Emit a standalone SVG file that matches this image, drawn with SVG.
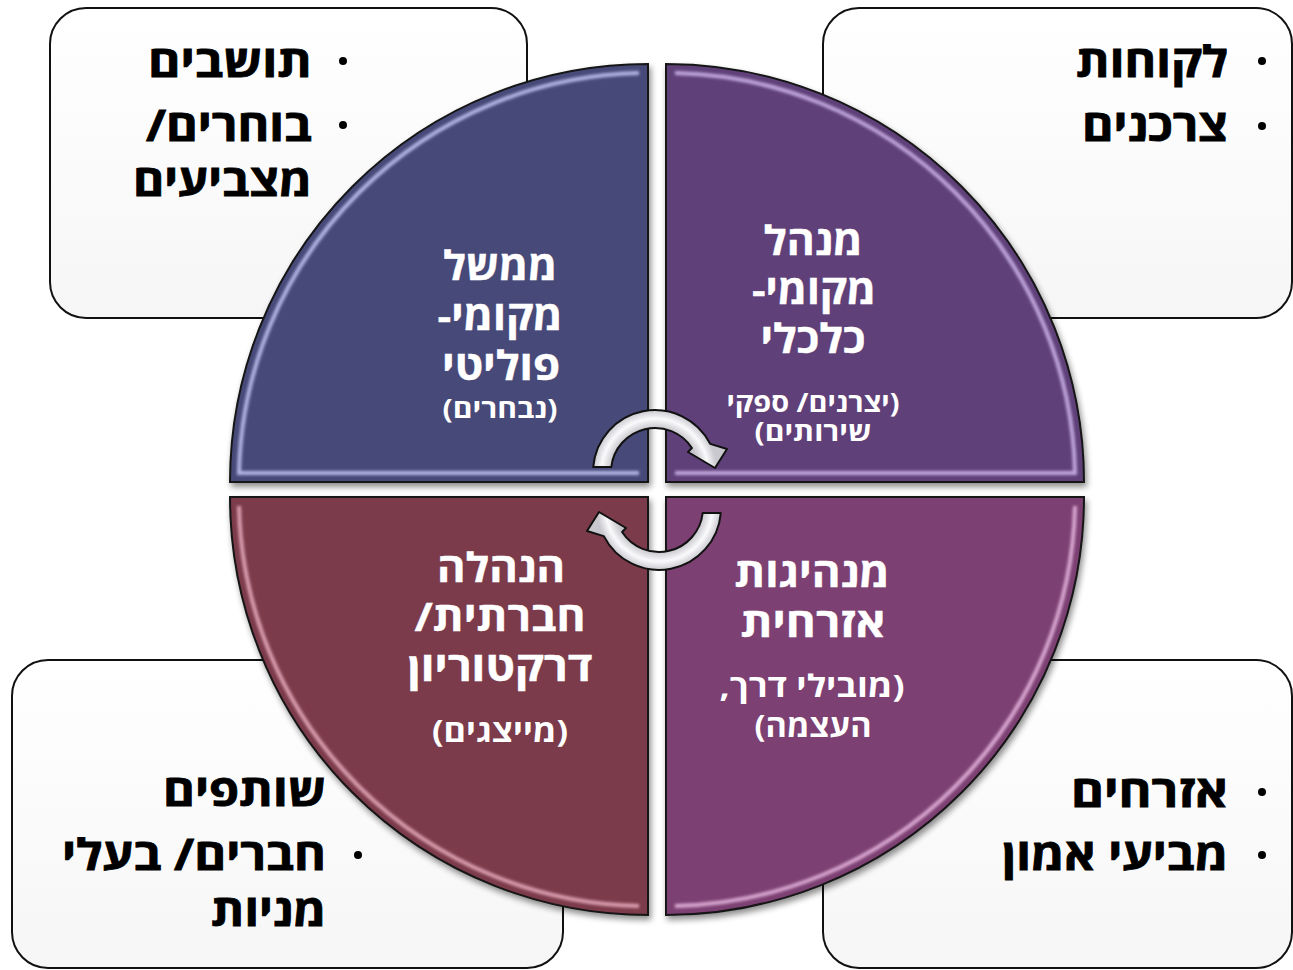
<svg xmlns="http://www.w3.org/2000/svg" width="1293" height="970" viewBox="0 0 1293 970">
<defs>
<linearGradient id="boxg" x1="0" y1="0" x2="0" y2="1">
<stop offset="0" stop-color="#ffffff"/>
<stop offset="1" stop-color="#f6f6f6"/>
</linearGradient>
<radialGradient id="arrg" gradientUnits="userSpaceOnUse" cx="655" cy="472" r="62">
<stop offset="0.70" stop-color="#c4c4ca"/>
<stop offset="0.86" stop-color="#fafafc"/>
<stop offset="1" stop-color="#c8c8ce"/>
</radialGradient>
<filter id="shadow" x="-10%" y="-10%" width="120%" height="120%">
<feGaussianBlur in="SourceAlpha" stdDeviation="3"/>
<feOffset dx="2" dy="4" result="b"/>
<feComponentTransfer><feFuncA type="linear" slope="0.45"/></feComponentTransfer>
<feMerge><feMergeNode/><feMergeNode in="SourceGraphic"/></feMerge>
</filter>
<filter id="soft" x="-5%" y="-5%" width="110%" height="110%">
<feGaussianBlur stdDeviation="1.6"/>
</filter>
</defs>
<style>
.box{fill:url(#boxg);stroke:#111;stroke-width:2}
.q{stroke:#151515;stroke-width:2}
.hl{fill:none;stroke-width:4;filter:url(#soft)}
.t{font-family:"Open Sans","DejaVu Sans","Liberation Sans",sans-serif;font-weight:bold}
.bt{font-size:43px;fill:#000;stroke:#000;stroke-width:0.8}
.qt{font-size:40px;fill:#fff;stroke:#fff;stroke-width:0.4}
.st{font-size:27px;fill:#fff}
.st2{font-size:31px;fill:#fff}
.bul{fill:#000}
.arr{fill:url(#arrg);stroke:#111;stroke-width:2;stroke-linejoin:round}
</style>

<g id="box-tl">
<rect class="box" x="50" y="8" width="477" height="310" rx="36"/>
<circle class="bul" cx="343" cy="61" r="4"/>
<circle class="bul" cx="343" cy="125" r="4"/>
<text class="t bt" x="312" y="77" direction="rtl" text-anchor="start" textLength="164" lengthAdjust="spacingAndGlyphs">תושבים</text>
<text class="t bt" x="312" y="141" direction="rtl" text-anchor="start" textLength="166" lengthAdjust="spacingAndGlyphs">בוחרים/</text>
<text class="t bt" x="312" y="196" direction="rtl" text-anchor="start" textLength="179" lengthAdjust="spacingAndGlyphs">מצביעים</text>
</g>

<g id="box-tr">
<rect class="box" x="823" y="8" width="469" height="310" rx="36"/>
<circle class="bul" cx="1262" cy="61" r="4"/>
<circle class="bul" cx="1262" cy="126" r="4"/>
<text class="t bt" x="1228" y="77" direction="rtl" text-anchor="start" textLength="152" lengthAdjust="spacingAndGlyphs">לקוחות</text>
<text class="t bt" x="1228" y="141" direction="rtl" text-anchor="start" textLength="146" lengthAdjust="spacingAndGlyphs">צרכנים</text>
</g>

<g id="box-bl">
<rect class="box" x="12" y="660" width="551" height="308" rx="36"/>
<circle class="bul" cx="358" cy="855" r="4"/>
<text class="t bt" x="326" y="806" direction="rtl" text-anchor="start" textLength="163" lengthAdjust="spacingAndGlyphs">שותפים</text>
<text class="t bt" x="326" y="870" direction="rtl" text-anchor="start" textLength="264" lengthAdjust="spacingAndGlyphs">חברים/ בעלי</text>
<text class="t bt" x="326" y="926" direction="rtl" text-anchor="start" textLength="115" lengthAdjust="spacingAndGlyphs">מניות</text>
</g>

<g id="box-br">
<rect class="box" x="823" y="660" width="469" height="308" rx="36"/>
<circle class="bul" cx="1262" cy="792" r="4"/>
<circle class="bul" cx="1262" cy="855" r="4"/>
<text class="t bt" x="1228" y="807" direction="rtl" text-anchor="start" textLength="157" lengthAdjust="spacingAndGlyphs">אזרחים</text>
<text class="t bt" x="1228" y="870" direction="rtl" text-anchor="start" textLength="226" lengthAdjust="spacingAndGlyphs">מביעי אמון</text>
</g>

<g id="q-tl">
<path class="q" fill="#464a78" filter="url(#shadow)" d="M648,482 L230,482 A418,418 0 0 1 648,64 Z"/>
<path class="hl" stroke="#b4b8e6" d="M639,473 L239,473 A409,409 0 0 1 639,73.1"/>
<path class="hl" stroke="#c8ccf4" d="M639,73 L639,473"/>
<text class="t qt" x="500" y="280" direction="rtl" text-anchor="middle" textLength="114" lengthAdjust="spacingAndGlyphs">ממשל</text>
<text class="t qt" x="500" y="330" direction="rtl" text-anchor="middle" textLength="125" lengthAdjust="spacingAndGlyphs">מקומי-</text>
<text class="t qt" x="501" y="380" direction="rtl" text-anchor="middle" textLength="118" lengthAdjust="spacingAndGlyphs">פוליטי</text>
<text class="t st" x="500" y="418" direction="rtl" text-anchor="middle" textLength="115" lengthAdjust="spacingAndGlyphs">(נבחרים)</text>
</g>

<g id="q-tr">
<path class="q" fill="#5e4179" filter="url(#shadow)" d="M666,482 L666,64 A418,418 0 0 1 1084,482 Z"/>
<path class="hl" stroke="#c2a8de" d="M675,73 A409,409 0 0 1 1075,473 L675,473"/>
<path class="hl" stroke="#b89ed6" d="M675,73 L675,473"/>
<text class="t qt" x="813" y="255" direction="rtl" text-anchor="middle" textLength="99" lengthAdjust="spacingAndGlyphs">מנהל</text>
<text class="t qt" x="814" y="304" direction="rtl" text-anchor="middle" textLength="124" lengthAdjust="spacingAndGlyphs">מקומי-</text>
<text class="t qt" x="813" y="353" direction="rtl" text-anchor="middle" textLength="105" lengthAdjust="spacingAndGlyphs">כלכלי</text>
<text class="t st" x="813" y="412" direction="rtl" text-anchor="middle" textLength="173" lengthAdjust="spacingAndGlyphs">(יצרנים/ ספקי</text>
<text class="t st" x="813" y="441" direction="rtl" text-anchor="middle" textLength="117" lengthAdjust="spacingAndGlyphs">שירותים)</text>
</g>

<g id="q-bl">
<path class="q" fill="#7b3a4b" filter="url(#shadow)" d="M648,497 L648,915 A418,418 0 0 1 230,497 Z"/>
<path class="hl" stroke="#e4a8b8" d="M239,506 L639,506"/>
<path class="hl" stroke="#dca0b2" d="M239,506 A409,409 0 0 0 639,906"/>
<text class="t qt" x="501" y="582" direction="rtl" text-anchor="middle" textLength="128" lengthAdjust="spacingAndGlyphs">הנהלה</text>
<text class="t qt" x="500" y="631" direction="rtl" text-anchor="middle" textLength="171" lengthAdjust="spacingAndGlyphs">חברתית/</text>
<text class="t qt" x="500" y="681" direction="rtl" text-anchor="middle" textLength="185" lengthAdjust="spacingAndGlyphs">דרקטוריון</text>
<text class="t st2" x="500" y="742" direction="rtl" text-anchor="middle" textLength="136" lengthAdjust="spacingAndGlyphs">(מייצגים)</text>
</g>

<g id="q-br">
<path class="q" fill="#7b3f72" filter="url(#shadow)" d="M666,497 L1084,497 A418,418 0 0 1 666,915 Z"/>
<path class="hl" stroke="#e2b4dc" d="M675,906 L675,506"/>
<path class="hl" stroke="#dcaad4" d="M1075,506 A409,409 0 0 1 675,906"/>
<text class="t qt" x="812" y="587" direction="rtl" text-anchor="middle" textLength="155" lengthAdjust="spacingAndGlyphs">מנהיגות</text>
<text class="t qt" x="813" y="637" direction="rtl" text-anchor="middle" textLength="145" lengthAdjust="spacingAndGlyphs">אזרחית</text>
<text class="t st2" x="812" y="697" direction="rtl" text-anchor="middle" textLength="185" lengthAdjust="spacingAndGlyphs">(מובילי דרך,</text>
<text class="t st2" x="813" y="737" direction="rtl" text-anchor="middle" textLength="117" lengthAdjust="spacingAndGlyphs">העצמה)</text>
</g>

<g id="connectors">
<path id="arrow-top" class="arr" d="M593.2,467 A62,62 0 0 1 710.2,443.9 L727,449 L715,468 L688,452 L691.9,448 A44,44 0 0 0 611.3,467 Z"/>
<path id="arrow-bottom" class="arr" transform="rotate(180 657 490)" d="M593.2,467 A62,62 0 0 1 710.2,443.9 L727,449 L715,468 L688,452 L691.9,448 A44,44 0 0 0 611.3,467 Z"/>
</g>
</svg>
